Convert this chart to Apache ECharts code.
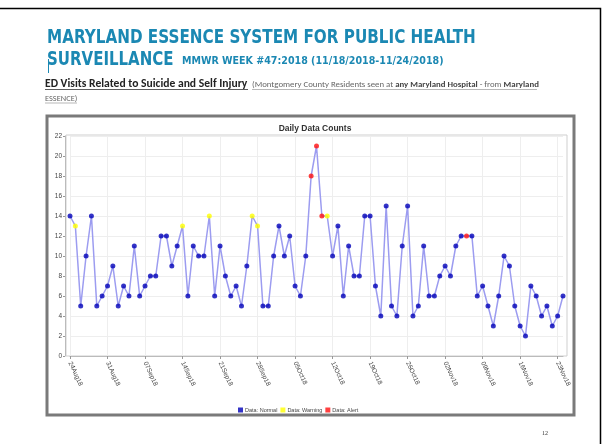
<!DOCTYPE html>
<html>
<head>
<meta charset="utf-8">
<script src="https://cdn.jsdelivr.net/npm/echarts@6/dist/echarts.min.js"></script>
<style>
html,body{margin:0;padding:0;background:#fff;}
#c{width:602px;height:444px;}
</style>
</head>
<body>
<div id="c"></div>
<script>
// ---- data ----
var categories = [
 "24Aug18","25Aug18","26Aug18","27Aug18","28Aug18","29Aug18","30Aug18",
 "31Aug18","01Sep18","02Sep18","03Sep18","04Sep18","05Sep18","06Sep18",
 "07Sep18","08Sep18","09Sep18","10Sep18","11Sep18","12Sep18","13Sep18",
 "14Sep18","15Sep18","16Sep18","17Sep18","18Sep18","19Sep18","20Sep18",
 "21Sep18","22Sep18","23Sep18","24Sep18","25Sep18","26Sep18","27Sep18",
 "28Sep18","29Sep18","30Sep18","01Oct18","02Oct18","03Oct18","04Oct18",
 "05Oct18","06Oct18","07Oct18","08Oct18","09Oct18","10Oct18","11Oct18",
 "12Oct18","13Oct18","14Oct18","15Oct18","16Oct18","17Oct18","18Oct18",
 "19Oct18","20Oct18","21Oct18","22Oct18","23Oct18","24Oct18","25Oct18",
 "26Oct18","27Oct18","28Oct18","29Oct18","30Oct18","31Oct18","01Nov18",
 "02Nov18","03Nov18","04Nov18","05Nov18","06Nov18","07Nov18","08Nov18",
 "09Nov18","10Nov18","11Nov18","12Nov18","13Nov18","14Nov18","15Nov18",
 "16Nov18","17Nov18","18Nov18","19Nov18","20Nov18","21Nov18","22Nov18",
 "23Nov18","24Nov18"
];
var counts = [
 14,13,5,10,14,5,6, 7,9,5,7,6,11,6, 7,8,8,12,12,9,11,
 13,6,11,10,10,14,6, 11,8,6,7,5,9,14, 13,5,5,10,13,10,12,
 7,6,10,18,21,14,14, 10,13,6,11,8,8,14, 14,7,4,15,5,4,11,
 15,4,5,11,6,6,8, 9,8,11,12,12,12,6, 7,5,3,6,10,9,5,
 3,2,7,6,4,5,3, 4,6
];
var warningDays = ["25Aug18","14Sep18","19Sep18","27Sep18","28Sep18","11Oct18"];
var alertDays = ["08Oct18","09Oct18","10Oct18","06Nov18"];
var tickLabels = ["24Aug18","31Aug18","07Sep18","14Sep18","21Sep18","28Sep18","05Oct18",
 "12Oct18","19Oct18","26Oct18","02Nov18","09Nov18","16Nov18","23Nov18"];
var yTicks = [0,2,4,6,8,10,12,14,16,18,20,22];

// ---- build series data ----
var normalData = [], warnData = [], alertData = [];
categories.forEach(function(d, i){
  var v = counts[i];
  if (alertDays.indexOf(d) >= 0) { alertData.push(v); warnData.push('-'); normalData.push('-'); }
  else if (warningDays.indexOf(d) >= 0) { warnData.push(v); alertData.push('-'); normalData.push('-'); }
  else { normalData.push(v); warnData.push('-'); alertData.push('-'); }
});
function isTick(i){ return tickLabels.indexOf(categories[i]) >= 0; }

var teal = '#1b88b3';
var titleFont = "'DejaVu Sans',sans-serif";
var bodyFont = 'Carlito, "Liberation Sans", sans-serif';
var chart = echarts.init(document.getElementById('c'), null, {renderer:'canvas'});
chart.setOption({
  animation: false,
  backgroundColor: '#ffffff',
  title: {
    text: 'Daily Data Counts',
    left: 310, top: 119, textAlign: 'center',
    textStyle: {fontSize: 8.5, fontWeight: 'bold', color: '#333', fontFamily: 'Liberation Sans'}
  },
  legend: {
    data: ['Data: Normal','Data: Warning','Data: Alert'],
    left: 233, top: 402,
    itemWidth: 5, itemHeight: 5, itemGap: 3,
    icon: 'rect',
    textStyle: {fontSize: 5.5, color: '#444', fontFamily: 'Liberation Sans', padding: [0,0,0,-3]}
  },
  grid: [
    {left: 70, right: 39, top: 136, bottom: 88, show: false},
    {left: 66, right: 35, top: 135, bottom: 88, show: true, borderColor: '#cfcfcf', borderWidth: 1, backgroundColor: '#fff', z: 0}
  ],
  xAxis: [
    {
      type: 'category', data: categories, boundaryGap: false, gridIndex: 0,
      axisLine: {show: true, lineStyle: {color: '#bbb'}, onZero: false},
      axisTick: {show: true, length: 3, interval: isTick, lineStyle:{color:'#999'}},
      axisLabel: {interval: isTick, rotate: -65, fontSize: 6.5, color: '#444', margin: 6, fontFamily: 'Liberation Sans'},
      splitLine: {show: true, interval: isTick, lineStyle: {color: '#eeeeee', width: 1}}
    },
    {type: 'category', gridIndex: 1, show: false, data: []}
  ],
  yAxis: [
    {
      type: 'value', min: yTicks[0], max: yTicks[yTicks.length-1], interval: yTicks[1]-yTicks[0], gridIndex: 0,
      offset: 5,
      axisLine: {show: true, lineStyle: {color: '#bbb'}},
      axisTick: {show: true, length: 2, lineStyle:{color:'#999'}},
      axisLabel: {fontSize: 6.5, color: '#444', margin: 3, fontFamily: 'Liberation Sans'},
      splitLine: {show: true, lineStyle: {color: '#eeeeee', width: 1}}
    },
    {type: 'value', gridIndex: 1, show: false}
  ],
  series: [
    {name: 'counts', type: 'line', data: counts, symbol: 'none', lineStyle: {color: '#9c9cf0', width: 1.5}, z: 2, silent: true},
    {name: 'Data: Normal', type: 'scatter', data: normalData, symbolSize: 5, itemStyle: {color: '#0000b8'}, z: 3},
    {name: 'Data: Warning', type: 'scatter', data: warnData, symbolSize: 5, itemStyle: {color: '#ffff00'}, z: 3},
    {name: 'Data: Alert', type: 'scatter', data: alertData, symbolSize: 5, itemStyle: {color: '#ff1010'}, z: 3}
  ],
  graphic: [
    {type: 'polyline', z: -1, shape: {points: [[0,8.5],[600.5,8.5],[600.5,444]]}, style: {stroke: '#000', lineWidth: 1.5, fill: null}},
    {type: 'rect', z: -1, shape: {x: 47, y: 116, width: 527, height: 299}, style: {stroke: '#7a7a7a', lineWidth: 3, fill: '#fff'}},
    {type: 'text', x: 47, y: 37.5, scaleX: 0.76, style: {text: 'MARYLAND ESSENCE SYSTEM FOR PUBLIC HEALTH', font: 'bold 20px ' + titleFont, fill: teal, verticalAlign: 'middle'}},
    {type: 'text', x: 47, y: 59.5, scaleX: 0.75, style: {text: 'SURVEILLANCE', font: 'bold 20px ' + titleFont, fill: teal, verticalAlign: 'middle'}},
    {type: 'text', x: 182, y: 61.5, scaleX: 0.865, style: {text: 'MMWR WEEK #47:2018 (11/18/2018-11/24/2018)', font: 'bold 11px ' + titleFont, fill: teal, verticalAlign: 'middle'}},
    {type: 'line', shape: {x1: 48.5, y1: 59, x2: 48.5, y2: 73}, style: {stroke: teal, lineWidth: 1}},
    {type: 'text', x: 45, y: 84, style: {text: 'ED Visits Related to Suicide and Self Injury', font: 'bold 11.6px ' + bodyFont, fill: '#222', verticalAlign: 'middle'}},
    {type: 'line', shape: {x1: 45, y1: 89.5, x2: 248, y2: 89.5}, style: {stroke: '#333', lineWidth: 0.8}},
    {type: 'text', x: 252, y: 85, style: {
      text: '{n|(Montgomery County Residents seen at }{b|any Maryland Hospital}{n| - from }{b|Maryland}',
      verticalAlign: 'middle',
      rich: {
        n: {font: '8.8px ' + bodyFont, fill: '#666'},
        b: {font: 'bold 8.8px ' + bodyFont, fill: '#444'}
      }
    }},
    {type: 'line', shape: {x1: 252, y1: 89.5, x2: 537, y2: 89.5}, style: {stroke: '#888', lineWidth: 0.6}},
    {type: 'text', x: 45, y: 99, style: {text: 'ESSENCE)', font: '8.4px ' + bodyFont, fill: '#666', verticalAlign: 'middle'}},
    {type: 'line', shape: {x1: 45, y1: 103, x2: 77, y2: 103}, style: {stroke: '#888', lineWidth: 0.6}},
    {type: 'text', x: 545, y: 433, style: {text: '12', font: '6px "Liberation Serif", serif', fill: '#333', align: 'center', verticalAlign: 'middle'}}
  ]
});
</script>
</body>
</html>
